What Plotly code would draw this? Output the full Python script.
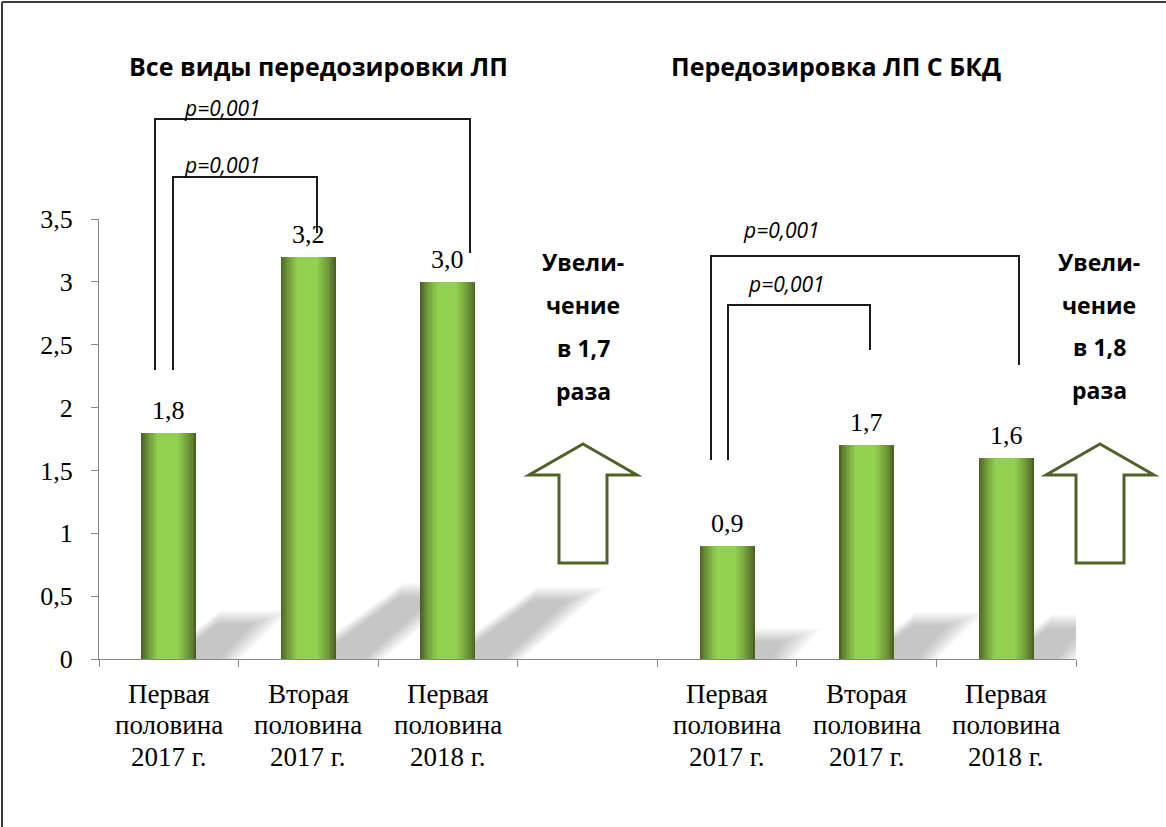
import plotly.graph_objects as go

# ---------------- data ----------------
positions = [0, 1, 2, 4, 5, 6]
values = [1.8, 3.2, 3.0, 0.9, 1.7, 1.6]
cat_positions = [0, 1, 2, 4, 5, 6]
cat_labels = ["Первая<br>половина<br>2017 г.", "Вторая<br>половина<br>2017 г.",
              "Первая<br>половина<br>2018 г.",
              "Первая<br>половина<br>2017 г.", "Вторая<br>половина<br>2017 г.",
              "Первая<br>половина<br>2018 г."]
titles = ["Все виды передозировки ЛП", "Передозировка ЛП С БКД"]
p_texts = ["p=0,001", "p=0,001", "p=0,001", "p=0,001"]
increase_left = ["Увели-", "чение", "в 1,7", "раза"]
increase_right = ["Увели-", "чение", "в 1,8", "раза"]
y_ticks = [0, 0.5, 1, 1.5, 2, 2.5, 3, 3.5]
y_tick_text = ["0", "0,5", "1", "1,5", "2", "2,5", "3", "3,5"]

# ---------------- layout helpers ----------------
W, H = 1166, 827
L, R, T, B = 99, 1076, 219, 659
SERIF = "Liberation Serif, Times New Roman, serif"
SANS = "Open Sans, Noto Sans, sans-serif"


def px(x):
    return (x - L) / (R - L)


def py(y):
    return (B - y) / (B - T)


fig = go.Figure()
shapes = []

# soft shadows behind bars (layered shapes below the traces, for blur)
NL = 10
for i, v in zip(positions, values):
    dx, dy = 0.22 * v, 0.155 * v
    slope = dx / dy
    for k in range(NL):
        t = (NL - 1 - k)
        e = t * 0.014
        ey = t * 0.012
        top = dy + ey
        x0, x1 = i - 0.2 - e, i + 0.2 + e
        shift = top * slope
        pts = [(x0, -0.2), (x1, -0.2), (x1 + shift, top), (x0 + shift + 0.15, top)]
        path = "M " + " L ".join(f"{a:.4f},{b:.4f}" for a, b in pts) + " Z"
        shapes.append(dict(type="path", xref="x", yref="y", path=path, layer="below",
                           line=dict(width=0), fillcolor="rgba(0,0,0,0.025)"))

# gradient bars (layered)
dark = (76, 98, 36)
light = (146, 208, 80)
N = 16
bw = 0.394
for k in range(N):
    s = k / (N - 1)
    f = min(1.0, s * 1.5) ** 0.75
    c = tuple(int(dark[j] + (light[j] - dark[j]) * f) for j in range(3))
    w = bw * (1 - k / N)
    off = -0.012 * s
    fig.add_trace(go.Bar(
        x=[p + off for p in positions], y=values, width=w,
        marker=dict(color=f"rgb{c}", line=dict(width=0)),
        hoverinfo="skip", showlegend=False))

annotations = []
# value labels
for p, v in zip(positions, values):
    annotations.append(dict(text=f"{v:.1f}".replace(".", ","), x=p, y=v, xref="x", yref="y",
                            showarrow=False, xanchor="center", yanchor="bottom", yshift=6,
                            font=dict(family=SERIF, size=26, color="black")))
# category labels (one annotation per line for exact line spacing)
line_ys = [694, 725, 757]
for p, lab in zip(cat_positions, cat_labels):
    for ln, cy in zip(lab.split("<br>"), line_ys):
        annotations.append(dict(text=ln, x=p, y=py(cy), xref="x", yref="paper",
                                showarrow=False, xanchor="center", yanchor="middle",
                                font=dict(family=SERIF, size=27, color="black")))

# brackets
brackets = [
    [(155, 370), (155, 119), (470, 119), (470, 253)],
    [(173, 370), (173, 177), (317, 177), (317, 233)],
    [(711, 460), (711, 256), (1019, 256), (1019, 365)],
    [(728, 460), (728, 305), (870, 305), (870, 350)],
]
for br in brackets:
    path = "M " + " L ".join(f"{px(x):.5f},{py(y):.5f}" for x, y in br)
    shapes.append(dict(type="path", xref="paper", yref="paper", path=path,
                       line=dict(color="#1a1a1a", width=2)))


def arrow(cx, tip, head, bottom, hw, sw):
    pts = [(cx, tip), (cx + hw, head), (cx + sw, head), (cx + sw, bottom),
           (cx - sw, bottom), (cx - sw, head), (cx - hw, head)]
    return "M " + " L ".join(f"{px(x):.5f},{py(y):.5f}" for x, y in pts) + " Z"


for cx in (583, 1100):
    shapes.append(dict(type="path", xref="paper", yref="paper",
                       path=arrow(cx, 444, 475, 563, 54, 24),
                       line=dict(color="#4f6228", width=3), fillcolor="white"))

# outer frame (left and top edges)
shapes.append(dict(type="line", xref="paper", yref="paper",
                   x0=px(2), x1=px(2), y0=py(2), y1=py(830),
                   line=dict(color="#3a3a3a", width=2)))
shapes.append(dict(type="line", xref="paper", yref="paper",
                   x0=px(2), x1=px(1170), y0=py(2), y1=py(2),
                   line=dict(color="#3a3a3a", width=2)))

# titles
for txt, cx in zip(titles, (318, 836)):
    annotations.append(dict(text=f"<b>{txt}</b>", x=px(cx), y=py(66), xref="paper", yref="paper",
                            showarrow=False, xanchor="center", yanchor="middle",
                            font=dict(family=SANS, size=25, color="black")))
# p-values
for txt, (cx, cy) in zip(p_texts, [(222, 108), (222, 165), (781, 230), (786, 284)]):
    annotations.append(dict(text=f"<i>{txt}</i>", x=px(cx), y=py(cy), xref="paper", yref="paper",
                            showarrow=False, xanchor="center", yanchor="middle",
                            font=dict(family=SANS, size=21, color="black")))
# increase texts
for lines, cx, ys in [(increase_left, 583, [262, 305, 348, 391]),
                      (increase_right, 1099, [262, 305, 347, 390])]:
    for ln, cy in zip(lines, ys):
        annotations.append(dict(text=f"<b>{ln}</b>", x=px(cx), y=py(cy), xref="paper", yref="paper",
                                showarrow=False, xanchor="center", yanchor="middle",
                                font=dict(family=SANS, size=23, color="black")))

fig.update_layout(
    width=W, height=H,
    margin=dict(l=L, r=W - R, t=T, b=H - B, pad=0),
    paper_bgcolor="white", plot_bgcolor="white",
    barmode="overlay", bargap=0,
    showlegend=False,
    shapes=shapes, annotations=annotations,
    xaxis=dict(range=[-0.5, 6.5], tickvals=[i - 0.5 for i in range(8)],
               ticktext=[""] * 8, ticks="outside", ticklen=7, tickcolor="#868686",
               showline=True, linecolor="#868686", linewidth=1, showgrid=False,
               zeroline=False, fixedrange=True),
    yaxis=dict(range=[0, 3.5], tickvals=y_ticks, ticktext=y_tick_text, ticks="outside", ticklen=7,
               tickcolor="#868686", showline=True, linecolor="#868686", linewidth=1,
               showgrid=False, zeroline=False,
               tickfont=dict(family=SERIF, size=26, color="black"),
               ticklabelstandoff=13),
)

fig.write_html("out.html", config={"displayModeBar": False},
               post_script="document.body.style.margin='0';document.body.style.overflow='hidden';")
